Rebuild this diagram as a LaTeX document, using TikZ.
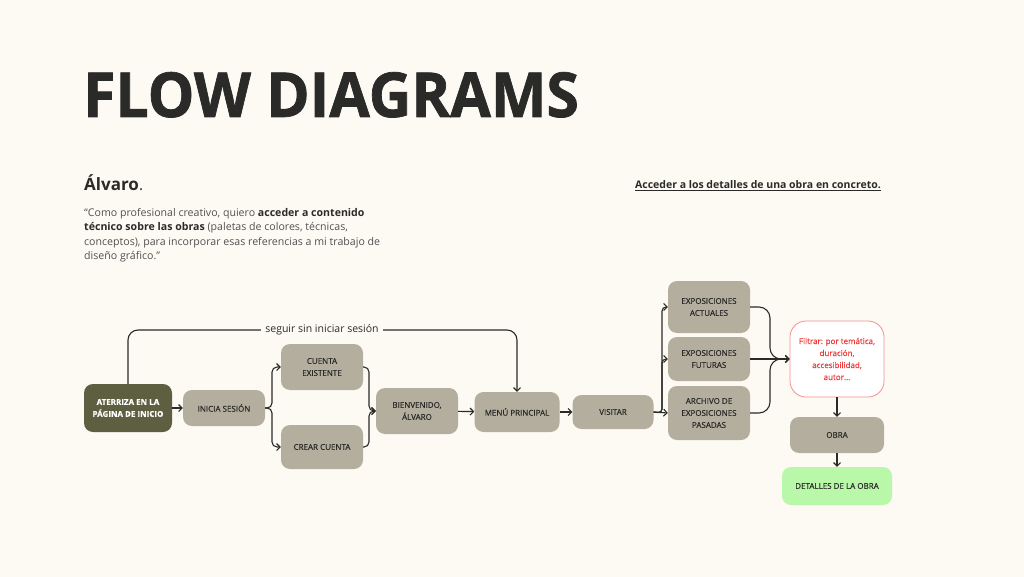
\documentclass[tikz,border=0pt]{standalone}
\usepackage{fontspec}
\setmainfont{Open Sans}
\newfontfamily\titlefont{Open Sans}[BoldFeatures={FakeBold=1.2}]
\newfontfamily\nodefont{Open Sans}[FakeBold=0.35]
\usetikzlibrary{arrows.meta}
\definecolor{bg}{HTML}{FCFAF3}
\definecolor{nodec}{HTML}{B3AE9E}
\definecolor{darkn}{HTML}{5E5E40}
\definecolor{txt}{HTML}{2A2A28}
\definecolor{gtxt}{HTML}{505050}
\definecolor{redt}{HTML}{F03A3A}
\definecolor{redb}{HTML}{F59090}
\definecolor{greenn}{HTML}{B9F7A9}
\tikzset{
  box/.style={rounded corners=9pt, fill=nodec, text=txt, align=center, inner sep=0pt,
    font=\nodefont\fontsize{8}{12}\selectfont},
  conn/.style={draw=txt, line width=1.1pt},
  arr/.style={conn, -{Straight Barb[length=3.5pt,width=7pt]}},
}
\begin{document}
\begin{tikzpicture}[x=1pt,y=-1pt]
\useasboundingbox[fill=bg] (0,0) rectangle (1024,577);

% heading texts
\node[anchor=base west, inner sep=0pt, text=txt, font=\titlefont\fontsize{62}{62}\selectfont\bfseries] (title) at (83,117) {\scalebox{0.95}[1]{FLOW DIAGRAMS}};
\node[anchor=base west, inner sep=0pt, text=txt, font=\fontsize{17}{20}\selectfont] (name) at (84,191) {\textbf{Álvaro}\textcolor{gtxt}{.}};
\node[anchor=north west, inner sep=0pt, text=gtxt, align=left, font=\fontsize{10.6}{14.4}\selectfont] (quote) at (84,208)
{“Como profesional creativo, quiero \textcolor{txt}{\textbf{acceder a contenido}}\\
\textcolor{txt}{\textbf{técnico sobre las obras}} (paletas de colores, técnicas,\\
conceptos), para incorporar esas referencias a mi trabajo de\\
diseño gráfico.”};
\node[anchor=base, inner sep=0pt, text=txt, font=\fontsize{10.5}{12}\selectfont\bfseries] (goal) at (758,189) {\underline{Acceder a los detalles de una obra en concreto.}};

% nodes
\node[box, fill=darkn, text=white, minimum width=88pt, minimum height=48pt] (ate) at (128,408) {\textbf{ATERRIZA EN LA}\\\textbf{PÁGINA DE INICIO}};
\node[box, minimum width=82pt, minimum height=36pt] (ini) at (224,408) {INICIA SESIÓN};
\node[box, minimum width=82pt, minimum height=46pt] (cue) at (322,367) {CUENTA\\EXISTENTE};
\node[box, minimum width=82pt, minimum height=44pt] (cre) at (322,447) {CREAR CUENTA};
\node[box, minimum width=82pt, minimum height=46pt] (bie) at (417,411) {BIENVENIDO,\\ÁLVARO};
\node[box, minimum width=85pt, minimum height=40pt] (men) at (517,412) {MENÚ PRINCIPAL};
\node[box, minimum width=81pt, minimum height=34pt] (vis) at (613,412) {VISITAR};
\node[box, minimum width=82pt, minimum height=52pt] (act) at (709,307) {EXPOSICIONES\\ACTUALES};
\node[box, minimum width=82pt, minimum height=44pt] (fut) at (709,359) {EXPOSICIONES\\FUTURAS};
\node[box, minimum width=82pt, minimum height=54pt] (arc) at (709,413) {ARCHIVO DE\\EXPOSICIONES\\PASADAS};
\node[box, rounded corners=16pt, fill=white, draw=redb, line width=0.8pt, text=redt, minimum width=94pt, minimum height=76pt] (fil) at (837,359) {Filtrar: por temática,\\duración,\\accesibilidad,\\autor...};
\node[box, minimum width=94pt, minimum height=36pt] (obr) at (837,435) {OBRA};
\node[box, fill=greenn, minimum width=110pt, minimum height=38pt] (det) at (837,486) {DETALLES DE LA OBRA};

% helper coordinates
\coordinate (b1) at (272,408);
\coordinate (b2) at (369,411);
\coordinate (b3) at (662,413);
\coordinate (b4) at (770,359);
\coordinate (top) at (322,330);

% connectors
\draw[arr] (ate) -- (ini);
\draw[arr, rounded corners=10pt] (ate.north) |- (top) -| (men.north);
\node[fill=bg, inner sep=4pt, text=txt, font=\fontsize{10.5}{12}\selectfont] (seg) at (top) {seguir sin iniciar sesión};

\draw[arr, rounded corners=5pt] (ini.east) -- (b1) |- (cue.west);
\draw[arr, rounded corners=5pt] (ini.east) -- (b1) |- (cre.west);
\draw[arr, rounded corners=5pt] (cue.east) -| (b2) -- (bie.west);
\draw[arr, rounded corners=5pt] (cre.east) -| (b2) -- (bie.west);
\draw[arr] (bie) -- (men);
\draw[arr] (men) -- (vis);

\draw[arr, rounded corners=4pt] (vis.east) -- (b3) |- (act.west);
\draw[arr, rounded corners=4pt] (vis.east) -- (b3) |- (fut.west);
\draw[arr] (vis.east) -- (arc.west);

\draw[arr, rounded corners=11pt] (act.east) -| (b4) -- (fil.west);
\draw[arr, rounded corners=11pt] (arc.east) -| (b4) -- (fil.west);
\draw[arr] (fut.east) -- (fil.west);

\draw[arr] (fil) -- (obr);
\draw[arr] (obr) -- (det);
\end{tikzpicture}
\end{document}
